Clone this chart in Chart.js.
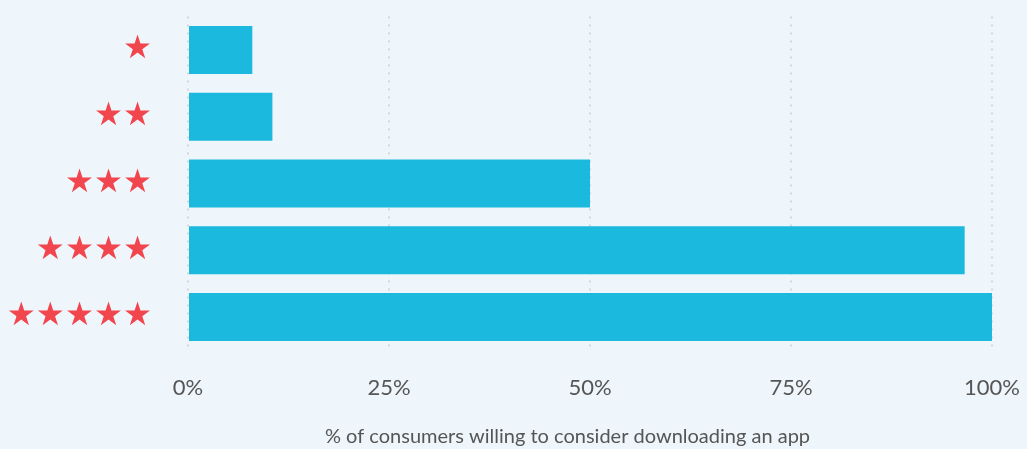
<!DOCTYPE html>
<html>
<head>
<meta charset="utf-8">
<script src="https://cdn.jsdelivr.net/npm/chart.js@4/dist/chart.umd.min.js"></script>
<style>
  html, body { margin: 0; padding: 0; background: #eef6fb; }
  #wrap { width: 1027px; height: 449px; position: relative; }
</style>
</head>
<body>
<div id="wrap"><canvas id="c"></canvas></div>
<script>
const categories = ['★', '★★', '★★★', '★★★★', '★★★★★'];
const values = [8, 10.5, 50, 96.6, 100];
const tickValues = [0, 25, 50, 75, 100];
const axisTitle = '% of consumers willing to consider downloading an app';

const bottomTitle = {
  id: 'bottomTitle',
  afterDraw(chart) {
    const {ctx, chartArea} = chart;
    ctx.save();
    ctx.font = '20px Lato';
    ctx.fillStyle = '#555555';
    ctx.textAlign = 'center';
    ctx.textBaseline = 'middle';
    const cx = (chartArea.left + chartArea.right) / 2 - 22.5;
    ctx.fillText(axisTitle, cx, chart.height - 12);
    ctx.restore();
  }
};

new Chart(document.getElementById('c'), {
  type: 'bar',
  data: {
    labels: categories,
    datasets: [{
      data: values,
      backgroundColor: '#1bb9dd',
      borderWidth: 0
    }]
  },
  plugins: [bottomTitle],
  options: {
    indexAxis: 'y',
    responsive: true,
    maintainAspectRatio: false,
    animation: false,
    layout: { padding: { left: 0, right: 35, top: 16.6, bottom: 48.2 } },
    plugins: {
      legend: { display: false },
      tooltip: { enabled: false },
      title: { display: false }
    },
    scales: {
      x: {
        min: 0,
        max: 100,
        afterBuildTicks: (scale) => { scale.ticks = tickValues.map(v => ({ value: v })); },
        ticks: {
          callback: (v) => v + '%',
          color: '#555555',
          font: { family: 'Lato', size: 22 },
          padding: 0,
          maxRotation: 0
        },
        grid: {
          color: '#d3d7da',
          lineWidth: 2,
          tickLength: 24,
          tickColor: 'rgba(0,0,0,0)'
        },
        border: { display: false, dash: [2, 6] }
      },
      y: {
        afterFit: (scale) => { scale.width = 188; },
        ticks: {
          color: '#f2464f',
          font: { family: 'DejaVu Sans', size: 32.4, lineHeight: 1.02 },
          padding: 0
        },
        grid: {
          display: true,
          drawOnChartArea: false,
          drawTicks: true,
          tickLength: 36,
          color: 'rgba(0,0,0,0)',
          tickColor: 'rgba(0,0,0,0)'
        },
        border: { display: false }
      }
    }
  }
});
</script>
</body>
</html>
